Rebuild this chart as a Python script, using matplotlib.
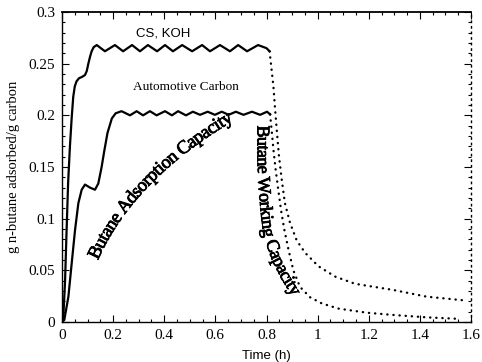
import numpy as np
import matplotlib
matplotlib.use("Agg")
import matplotlib.pyplot as plt
import matplotlib.patheffects as pe
from matplotlib.font_manager import FontProperties, findfont
from matplotlib.ft2font import FT2Font
from matplotlib.ticker import MultipleLocator, FormatStrFormatter

W, H = 482, 362

# CS, KOH - adsorption step (solid)
koh_ads_t = [0.0, 0.005, 0.012, 0.018, 0.024, 0.031, 0.038, 0.044, 0.05, 0.057,
             0.067, 0.077, 0.09, 0.097, 0.103, 0.11, 0.116, 0.124, 0.136,
             0.168, 0.207, 0.239, 0.274, 0.305, 0.336, 0.372, 0.403, 0.434,
             0.470, 0.509, 0.548, 0.579, 0.618, 0.657, 0.689, 0.724, 0.767,
             0.80, 0.812]
koh_ads_y = [0.0, 0.004, 0.04, 0.089, 0.135, 0.17, 0.198, 0.218, 0.228, 0.233,
             0.236, 0.237, 0.239, 0.243, 0.25, 0.257, 0.262, 0.266, 0.268,
             0.262, 0.268, 0.262, 0.268, 0.262, 0.268, 0.262, 0.268, 0.262,
             0.268, 0.262, 0.268, 0.262, 0.268, 0.262, 0.268, 0.262, 0.268,
             0.265, 0.262]

# CS, KOH - purge step (dotted)
koh_des_t = [0.812, 0.82, 0.827, 0.833, 0.84, 0.849, 0.86, 0.872, 0.892, 0.918,
             0.951, 1.003, 1.068, 1.146, 1.296, 1.427, 1.57]
koh_des_y = [0.262, 0.244, 0.228, 0.208, 0.186, 0.16, 0.137, 0.115, 0.096, 0.079,
             0.067, 0.054, 0.044, 0.037, 0.031, 0.0245, 0.021]

# Automotive carbon - adsorption step (solid)
auto_ads_t = [0.0, 0.009, 0.025, 0.038, 0.051, 0.064, 0.077, 0.09, 0.11, 0.129,
              0.142, 0.155, 0.165, 0.178, 0.195, 0.21, 0.233,
              0.266, 0.292, 0.317, 0.344, 0.37, 0.403, 0.43, 0.454, 0.485,
              0.512, 0.54, 0.57, 0.598, 0.625, 0.652, 0.68, 0.71, 0.743,
              0.775, 0.802, 0.814]
auto_ads_y = [0.0, 0.002, 0.0245, 0.057, 0.089, 0.115, 0.128, 0.133, 0.130, 0.128,
              0.134, 0.150, 0.165, 0.183, 0.197, 0.202, 0.204,
              0.200, 0.204, 0.200, 0.204, 0.200, 0.204, 0.200, 0.204, 0.200,
              0.2035, 0.2005, 0.2035, 0.2005, 0.2035, 0.2005, 0.2035, 0.2005, 0.2035,
              0.2005, 0.2035, 0.201]

# Automotive carbon - purge step (dotted)
auto_des_t = [0.814, 0.82, 0.827, 0.836, 0.846, 0.857, 0.870, 0.886, 0.905, 0.931,
              0.970, 1.016, 1.081, 1.192, 1.296, 1.427, 1.557]
auto_des_y = [0.201, 0.186, 0.167, 0.147, 0.128, 0.108, 0.089, 0.070, 0.050, 0.034,
              0.024, 0.018, 0.013, 0.009, 0.0068, 0.0045, 0.003]

x_ticks = [0, 0.2, 0.4, 0.6, 0.8, 1.0, 1.2, 1.4, 1.6]
y_ticks = [0, 0.05, 0.1, 0.15, 0.2, 0.25, 0.3]

SERIF = "Liberation Serif"


def _advances(s, prop, size):
    font = FT2Font(findfont(prop), hinting_factor=1)
    font.set_size(size, 100)
    return np.array([font.load_char(ord(c)).linearHoriAdvance / 65536.0 for c in s])


def text_on_path(fig, s, pts, fs, family=SERIF, **kw):
    """Lay s out char by char along a polyline given in image pixels (y down).
    Letter spacing is squeezed/stretched so the string fills the path."""
    pts = np.asarray(pts, float)
    seg = np.hypot(*np.diff(pts, axis=0).T)
    cum = np.concatenate([[0.0], np.cumsum(seg)])
    adv = _advances(s, FontProperties(family=family), fs)
    adv = adv * cum[-1] / adv.sum()
    mids = np.cumsum(adv) - adv / 2
    for ch, d in zip(s, mids):
        x = np.interp(d, cum, pts[:, 0])
        y = np.interp(d, cum, pts[:, 1])
        xa, ya = np.interp(d - 4, cum, pts[:, 0]), np.interp(d - 4, cum, pts[:, 1])
        xb, yb = np.interp(d + 4, cum, pts[:, 0]), np.interp(d + 4, cum, pts[:, 1])
        ang = np.degrees(np.arctan2(-(yb - ya), xb - xa))
        fig.text(x / W, 1 - y / H, ch, rotation=ang, rotation_mode="anchor",
                 ha="center", va="center", family=family, fontsize=fs, **kw)


def bezier(p0, p1, p2, n=200):
    t = np.linspace(0, 1, n)[:, None]
    p0, p1, p2 = map(np.asarray, (p0, p1, p2))
    return (1 - t) ** 2 * p0 + 2 * (1 - t) * t * p1 + t ** 2 * p2


fig = plt.figure(figsize=(W / 100, H / 100), dpi=100)
ax = fig.add_axes([62 / W, 1 - 322 / H, (471 - 62) / W, (322 - 12) / H])

solid = dict(color="black", lw=1.6, solid_joinstyle="round")
dots = dict(color="black", lw=1.7, linestyle=(0, (0.1, 2.5)), dash_capstyle="round")
ax.plot(koh_ads_t, koh_ads_y, **solid)
ax.plot(auto_ads_t, auto_ads_y, **solid)
ax.plot(koh_des_t, koh_des_y, **dots)
ax.plot(auto_des_t, auto_des_y, **dots)

ax.set_xlim(0, 1.6)
ax.set_ylim(0, 0.3)
ax.set_xticks(x_ticks)
ax.set_yticks(y_ticks)
ax.xaxis.set_major_formatter(FormatStrFormatter("%g"))
ax.yaxis.set_major_formatter(FormatStrFormatter("%g"))
ax.xaxis.set_minor_locator(MultipleLocator(0.05))
ax.yaxis.set_minor_locator(MultipleLocator(0.01))
ax.tick_params(which="both", direction="in", top=True, right=True,
               labelsize=11, width=0.8, color="black")
ax.tick_params(which="major", length=5, pad=5)
ax.tick_params(which="minor", length=2.5)
for lab in ax.get_xticklabels() + ax.get_yticklabels():
    lab.set_family(SERIF)
for side in ["left", "bottom"]:
    ax.spines[side].set_linewidth(1.0)
ax.spines["top"].set_linewidth(1.3)
ax.spines["right"].set_linestyle((0, (1, 3)))
ax.spines["right"].set_linewidth(1.0)

ax.set_xlabel("Time (h)", family="Liberation Sans", fontsize=9.5, labelpad=6)
ax.set_ylabel("g n-butane adsorbed/g carbon", family=SERIF, fontsize=10.5, labelpad=6)

ax.text(0.395, 0.279, "CS, KOH", family="Liberation Sans", fontsize=9.5,
        ha="center", va="center")
ax.text(0.485, 0.2275, "Automotive Carbon", family=SERIF, fontsize=9.5,
        ha="center", va="center")

heavy = [pe.withStroke(linewidth=0.6, foreground="black")]
text_on_path(fig, "Butane Adsorption Capacity",
             bezier((94, 258), (130, 177), (231, 117)), fs=13.5, path_effects=heavy)
text_on_path(fig, "Butane Working Capacity",
             [(262, 126), (262, 160), (263, 185), (265, 210), (268, 235),
              (276, 258), (285, 276), (296, 294)], fs=13, path_effects=heavy)

fig.savefig("out.png", dpi=100)
